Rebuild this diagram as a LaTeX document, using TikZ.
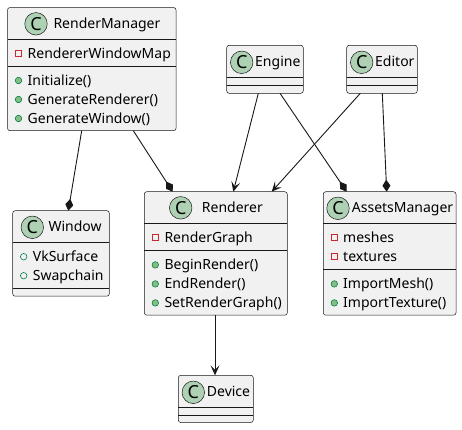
\documentclass[tikz,border=0pt]{standalone}
\usepackage{fontspec}
\setmainfont{Noto Sans}
\usetikzlibrary{arrows.meta}
\definecolor{lineC}{HTML}{181818}
\definecolor{boxC}{HTML}{F1F1F1}
\definecolor{spotC}{HTML}{ADD1B2}
\definecolor{privC}{HTML}{C82930}
\definecolor{pubC}{HTML}{038048}
\definecolor{pubFill}{HTML}{84BE84}
\begin{document}
\begin{tikzpicture}[x=1pt,y=-1pt,
  cls/.style={draw=lineC,fill=boxC,line width=0.5pt,rounded corners=2.5pt,outer sep=0pt,inner sep=0pt},
  sepl/.style={draw=lineC,line width=0.5pt},
  spot/.style={circle,draw=lineC,fill=spotC,line width=0.5pt,minimum size=22.5pt,inner sep=0pt,font=\fontsize{18}{18}\selectfont},
  ttl/.style={anchor=base west,inner sep=0pt,font=\fontsize{14}{16}\selectfont,text=black},
  mem/.style={anchor=base west,inner sep=0pt,font=\fontsize{14}{16}\selectfont,text=black},
  privicon/.style={rectangle,draw=privC,line width=0.6pt,minimum size=6pt,inner sep=0pt},
  pubm/.style={circle,draw=pubC,fill=pubFill,line width=0.6pt,minimum size=6.5pt,inner sep=0pt},
  pubf/.style={circle,draw=pubC,line width=0.6pt,minimum size=6.5pt,inner sep=0pt},
  conn/.style={draw=lineC,line width=0.9pt},
  comp/.style={conn,-{Diamond[length=12pt,width=8pt]}},
  assoc/.style={conn,-{Stealth[length=10pt,width=9pt,inset=4.5pt]}}
]
\useasboundingbox (0,0) rectangle (462,429);

% ---------- RenderManager ----------
\node[cls,minimum width=168.5pt,minimum height=123.2pt] (rm) at (91.75,69.1) {};
\draw[sepl] (rm.west |- 0,39) -- (rm.east |- 0,39);
\draw[sepl] (rm.west |- 0,66) -- (rm.east |- 0,66);
\node[spot] (rmI) at (36,23.8) {C};
\node[ttl] (rmT) at (53.3,28.3) {RenderManager};
\node[privicon] (rmF1i) at (18.5,53.5) {};
\node[mem] (rmF1) at (27.5,58) {RendererWindowMap};
\node[pubm] (rmM1i) at (18.5,80.5) {};
\node[mem] (rmM1) at (27.5,85) {Initialize()};
\node[pubm] (rmM2i) at (18.5,99.5) {};
\node[mem] (rmM2) at (27.5,104) {GenerateRenderer()};
\node[pubm] (rmM3i) at (18.5,118.5) {};
\node[mem] (rmM3) at (27.5,123) {GenerateWindow()};

% ---------- Window ----------
\node[cls,minimum width=96.6pt,minimum height=85.5pt] (win) at (61,253.45) {};
\draw[sepl] (win.west |- 0,242.2) -- (win.east |- 0,242.2);
\draw[sepl] (win.west |- 0,288.2) -- (win.east |- 0,288.2);
\node[spot] (winI) at (32.3,227.3) {C};
\node[ttl] (winT) at (48.3,231.8) {Window};
\node[pubf] (winF1i) at (23.7,256.7) {};
\node[mem] (winF1) at (32.7,261.2) {VkSurface};
\node[pubf] (winF2i) at (23.7,275.7) {};
\node[mem] (winF2) at (32.7,280.2) {Swapchain};

% ---------- Renderer ----------
\node[cls,minimum width=143pt,minimum height=123.5pt] (ren) at (215.8,253.45) {};
\draw[sepl] (ren.west |- 0,223) -- (ren.east |- 0,223);
\draw[sepl] (ren.west |- 0,250.2) -- (ren.east |- 0,250.2);
\node[spot] (renI) at (180.7,207.8) {C};
\node[ttl] (renT) at (201.7,212.3) {Renderer};
\node[privicon] (renF1i) at (155.3,237.7) {};
\node[mem] (renF1) at (164.3,242.2) {RenderGraph};
\node[pubm] (renM1i) at (155.3,264.9) {};
\node[mem] (renM1) at (164.3,269.4) {BeginRender()};
\node[pubm] (renM2i) at (155.3,283.9) {};
\node[mem] (renM2) at (164.3,288.4) {EndRender()};
\node[pubm] (renM3i) at (155.3,302.9) {};
\node[mem] (renM3) at (164.3,307.4) {SetRenderGraph()};

% ---------- AssetsManager ----------
\node[cls,minimum width=132.7pt,minimum height=123.5pt] (am) at (389.65,253.45) {};
\draw[sepl] (am.west |- 0,223.6) -- (am.east |- 0,223.6);
\draw[sepl] (am.west |- 0,269.2) -- (am.east |- 0,269.2);
\node[spot] (amI) at (338,208.3) {C};
\node[ttl] (amT) at (351.7,212.8) {AssetsManager};
\node[privicon] (amF1i) at (334.3,237.7) {};
\node[mem] (amF1) at (343,242.2) {meshes};
\node[privicon] (amF2i) at (334.3,256.7) {};
\node[mem] (amF2) at (343,261.2) {textures};
\node[pubm] (amM1i) at (334.3,283.9) {};
\node[mem] (amM1) at (343,288.4) {ImportMesh()};
\node[pubm] (amM2i) at (334.3,302.9) {};
\node[mem] (amM2) at (343,307.4) {ImportTexture()};

% ---------- Engine ----------
\node[cls,minimum width=76.6pt,minimum height=48pt] (eng) at (265,69.3) {};
\draw[sepl] (eng.west |- 0,77.5) -- (eng.east |- 0,77.5);
\draw[sepl] (eng.west |- 0,85.3) -- (eng.east |- 0,85.3);
\node[spot] (engI) at (241.7,62.3) {C};
\node[ttl] (engT) at (255,66.8) {Engine};

% ---------- Editor ----------
\node[cls,minimum width=70.6pt,minimum height=48pt] (ed) at (382,69.3) {};
\draw[sepl] (ed.west |- 0,77.5) -- (ed.east |- 0,77.5);
\draw[sepl] (ed.west |- 0,85.3) -- (ed.east |- 0,85.3);
\node[spot] (edI) at (361.7,62.3) {C};
\node[ttl] (edT) at (375,66.8) {Editor};

% ---------- Device ----------
\node[cls,minimum width=75pt,minimum height=47.2pt] (dev) at (215.8,398.9) {};
\draw[sepl] (dev.west |- 0,407.3) -- (dev.east |- 0,407.3);
\draw[sepl] (dev.west |- 0,415) -- (dev.east |- 0,415);
\node[spot] (devI) at (193.3,392.3) {C};
\node[ttl] (devT) at (206.7,396.8) {Device};

% ---------- connectors ----------
\draw[comp] ([xshift=74.2pt]rm.south west) -- ([xshift=55.6pt]win.north west);
\draw[comp] ([xshift=125.8pt]rm.south west) -- ([xshift=28.4pt]ren.north west);
\draw[assoc] ([xshift=31.6pt]eng.south west) -- ([xshift=89pt]ren.north west);
\draw[comp] ([xshift=53.3pt]eng.south west) -- ([xshift=23.4pt]am.north west);
\draw[assoc] ([xshift=13.6pt]ed.south west) -- ([xshift=127.4pt]ren.north west);
\draw[comp] ([xshift=35.6pt]ed.south west) -- ([xshift=63.4pt]am.north west);
\draw[assoc] ([xshift=70.7pt]ren.south west) -- ([xshift=36.7pt]dev.north west);
\end{tikzpicture}
\end{document}
